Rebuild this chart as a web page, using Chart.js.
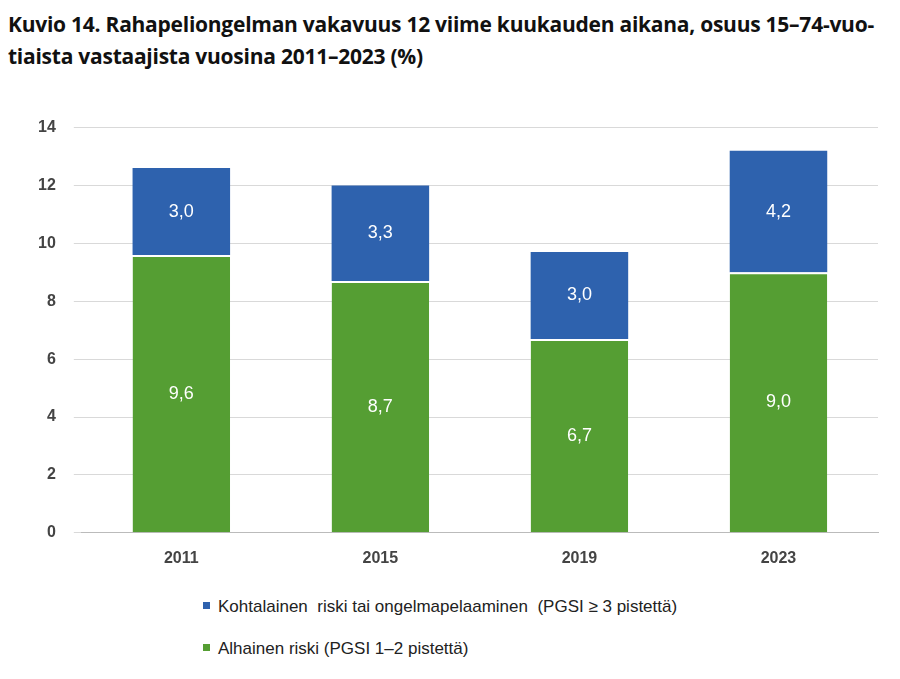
<!DOCTYPE html>
<html><head><meta charset="utf-8">
<script src="https://cdn.jsdelivr.net/npm/chart.js@4"></script>
<style>
body{margin:0;width:900px;height:679px;background:#fff;font-family:"Open Sans","Noto Sans",sans-serif;position:relative;overflow:hidden}
#title{position:absolute;left:8px;top:8px;width:892px;font-size:21px;font-weight:700;line-height:32px;color:#111;letter-spacing:-0.25px;white-space:nowrap}
#wrap{position:absolute;left:0;top:100px;width:900px;height:476px}
.leg{position:absolute;left:203px;font-family:Arial,"Liberation Sans",sans-serif;font-size:17px;color:#222}
.leg span{display:inline-block;width:7px;height:7px;margin-right:8px;vertical-align:middle;position:relative;top:-2px}
</style></head><body>
<div id="title">Kuvio 14. Rahapeliongelman vakavuus 12 viime kuukauden aikana, osuus 15–74-vuo-<br>tiaista vastaajista vuosina 2011–2023 (%)</div>
<div id="wrap"><canvas id="c"></canvas></div>
<div class="leg" style="top:597px"><span style="background:#2E62AE"></span>Kohtalainen&nbsp; riski tai ongelmapelaaminen&nbsp; (PGSI ≥ 3 pistettä)</div>
<div class="leg" style="top:639px"><span style="background:#559E33"></span>Alhainen riski (PGSI 1–2 pistettä)</div>
<script>
const categories=["2011","2015","2019","2023"];
const lowRisk=[9.6,8.7,6.7,9.0];
const moderateRisk=[3.0,3.3,3.0,4.2];
const labelsPlugin={id:'lbl',afterDatasetsDraw(ch){const c=ch.ctx;c.save();c.fillStyle='#fff';c.font='18px Arial, "Liberation Sans", sans-serif';c.textAlign='center';c.textBaseline='middle';
ch.data.datasets.forEach((d,i)=>{ch.getDatasetMeta(i).data.forEach((b,j)=>{c.fillText(d.data[j].toFixed(1).replace('.',','),b.x,(b.y+b.base)/2);});});c.restore();}};
new Chart(document.getElementById('c'),{type:'bar',
data:{labels:categories,datasets:[
{label:'Alhainen riski (PGSI 1–2 pistettä)',data:lowRisk,backgroundColor:'#559E33',borderColor:'#fff',borderWidth:{top:2},borderSkipped:'bottom'},
{label:'Kohtalainen riski tai ongelmapelaaminen (PGSI ≥ 3 pistettä)',data:moderateRisk,backgroundColor:'#2E62AE',borderColor:'#fff',borderWidth:0}]},
options:{responsive:true,maintainAspectRatio:false,animation:false,
layout:{padding:{left:20,right:22,top:15,bottom:0}},
plugins:{legend:{display:false},tooltip:{enabled:false}},
datasets:{bar:{barPercentage:0.49,categoryPercentage:1}},
scales:{x:{stacked:true,grid:{display:false},border:{color:'#bbb'},ticks:{color:'#444',font:{family:'Arial, "Liberation Sans"',size:16,weight:'bold'},padding:8}},
y:{stacked:true,min:0,max:14,ticks:{stepSize:2,color:'#444',padding:18,font:{family:'Arial, "Liberation Sans"',size:16,weight:'bold'}},grid:{color:'#d9d9d9'},border:{display:false}}}},
plugins:[labelsPlugin]});
</script></body></html>
